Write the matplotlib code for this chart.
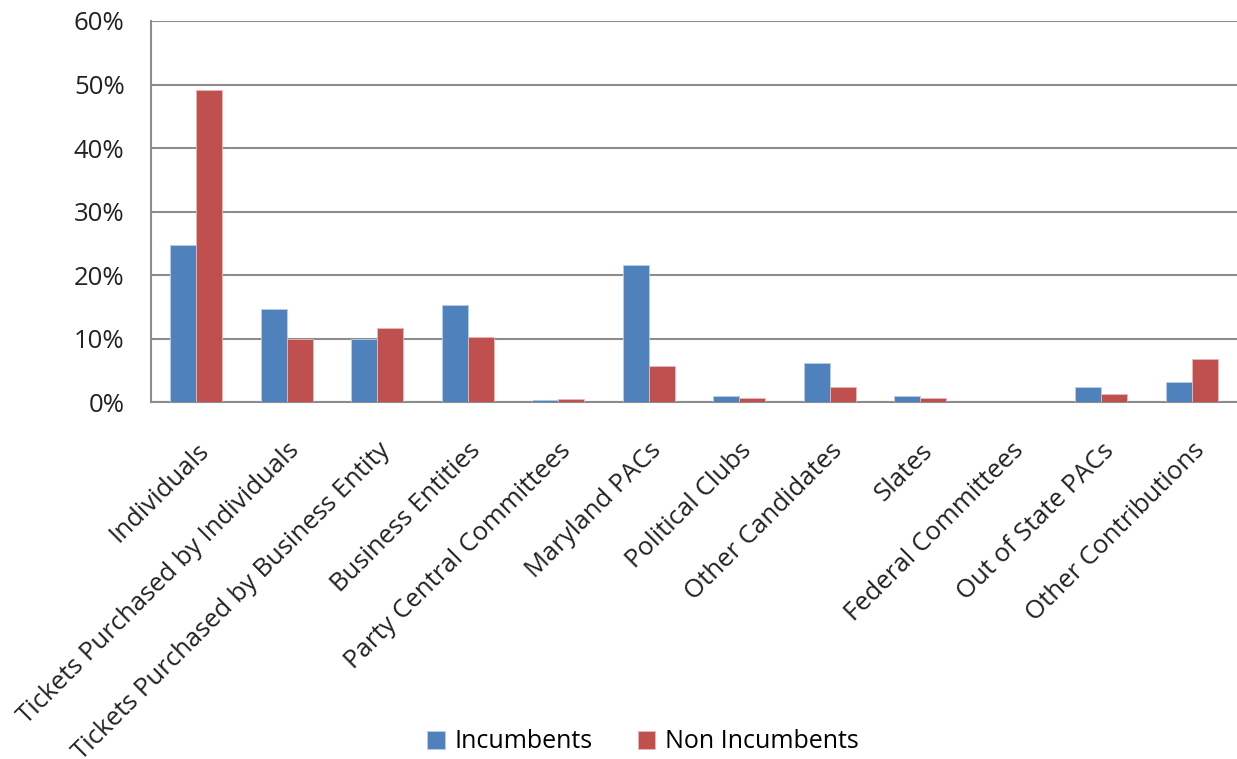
import numpy as np
import matplotlib
matplotlib.use("Agg")
import matplotlib.pyplot as plt
from matplotlib.ticker import PercentFormatter

plt.rcParams['font.family'] = ['Open Sans', 'DejaVu Sans']

categories = [
    "Individuals",
    "Tickets Purchased by Individuals",
    "Tickets Purchased by Business Entity",
    "Business Entities",
    "Party Central Committees",
    "Maryland PACs",
    "Political Clubs",
    "Other Candidates",
    "Slates",
    "Federal Committees",
    "Out of State PACs",
    "Other Contributions",
]
incumbents = [24.8, 14.6, 10.0, 15.2, 0.25, 21.6, 0.9, 6.1, 0.9, 0.0, 2.3, 3.1]
non_incumbents = [49.1, 9.95, 11.7, 10.3, 0.45, 5.7, 0.65, 2.3, 0.65, 0.0, 1.25, 6.8]
y_ticks = [0, 10, 20, 30, 40, 50, 60]

blue = "#4F81BD"
red = "#C0504D"
grid_grey = "#8C8C8C"

fig = plt.figure(figsize=(12.37, 7.59), dpi=100)
ax = fig.add_axes([151 / 1237, 1 - 402 / 759, 1 - 151 / 1237, (402 - 21) / 759])

x = np.arange(len(categories))
w = 0.29
ax.bar(x - w / 2, incumbents, w, color=blue, edgecolor="#B9CDE5", linewidth=0.6,
       label="Incumbents", zorder=3)
ax.bar(x + w / 2, non_incumbents, w, color=red, edgecolor="#E6B9B8", linewidth=0.6,
       label="Non Incumbents", zorder=3)

ax.set_xlim(-0.5, len(categories) - 0.5)
ax.set_ylim(0, 60)
ax.set_yticks(y_ticks)
ax.yaxis.set_major_formatter(PercentFormatter(decimals=0))
ax.grid(axis="y", color=grid_grey, linewidth=1.5, zorder=0)
ax.set_axisbelow(True)

for side in ("top", "right"):
    ax.spines[side].set_visible(False)
for side in ("left", "bottom"):
    ax.spines[side].set_color(grid_grey)
    ax.spines[side].set_linewidth(1.5)

ax.tick_params(axis="both", length=0, labelsize=18.5, colors="#222222")
ax.tick_params(axis="y", pad=19)
ax.set_xticks(x)
ax.set_xticklabels(categories, rotation=45, ha="right", va="top",
                   rotation_mode="anchor")
ax.tick_params(axis="x", pad=26)
for lbl in ax.get_xticklabels():
    lbl.set_x(lbl.get_position()[0])

fig.legend(loc="center", bbox_to_anchor=(643 / 1237, 1 - 742 / 759), ncol=2,
           frameon=False, fontsize=18, handlelength=0.7, handleheight=0.7,
           handletextpad=0.4, columnspacing=1.8)

fig.savefig("out.png", dpi=100)
